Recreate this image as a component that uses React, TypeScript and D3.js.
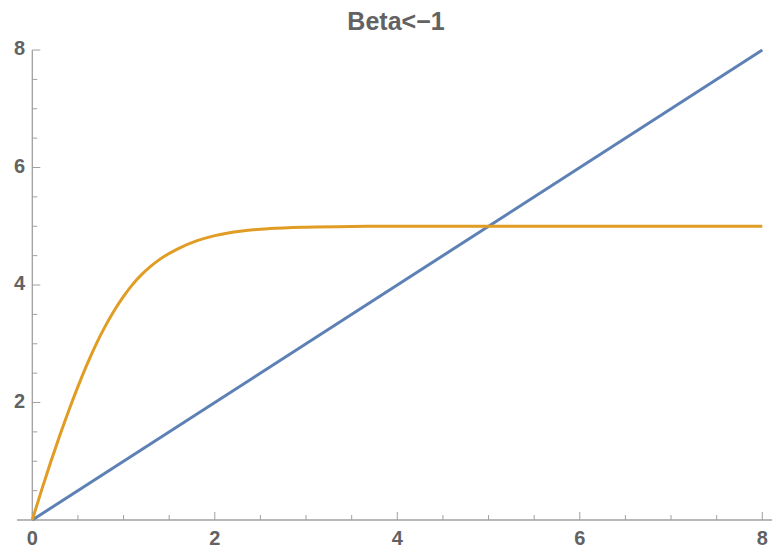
import React, { useRef, useEffect } from 'react';
import * as d3 from 'd3';

// series
const orangeX = [0, 0.1, 0.2, 0.3, 0.4, 0.5, 0.6, 0.7, 0.8, 0.9, 1.0, 1.1, 1.2, 1.3, 1.4, 1.6, 1.8, 2.0, 2.3, 2.6, 3.0, 3.5, 4, 5, 6, 7, 8];
const orangeY = [0, 0.5, 0.98, 1.435, 1.865, 2.27, 2.65, 2.995, 3.3, 3.57, 3.805, 4.01, 4.18, 4.32, 4.44, 4.62, 4.75, 4.84, 4.92, 4.96, 4.985, 4.997, 5.0, 5.0, 5.0, 5.0, 5.0];
const blueX = [0, 8];
const blueY = [0, 8];
const majorTicks = [0, 2, 4, 6, 8];
const minorTicks = [0.5, 1, 1.5, 2.5, 3, 3.5, 4.5, 5, 5.5, 6.5, 7, 7.5];
const title = 'Beta<\u22121';

const width = 772;
const height = 552;

export default function App() {
  const svgRef = useRef<SVGSVGElement>(null);

  useEffect(() => {
    if (!svgRef.current) return;
    const svg = d3.select(svgRef.current);
    svg.selectAll('*').remove();

    const xScale = d3.scaleLinear().domain([0, 8]).range([32.3, 762.3]);
    const yScale = d3.scaleLinear().domain([0, 8]).range([520, 50]);

    const axisColor = '#a0a0a0';
    const labelColor = '#626262';
    const font = '"Liberation Sans", Arial, sans-serif';

    // axes lines
    svg.append('line')
      .attr('x1', 17).attr('x2', 772)
      .attr('y1', yScale(0)).attr('y2', yScale(0))
      .attr('stroke', axisColor).attr('stroke-width', 1.3);
    svg.append('line')
      .attr('x1', xScale(0)).attr('x2', xScale(0))
      .attr('y1', yScale(8)).attr('y2', yScale(0))
      .attr('stroke', axisColor).attr('stroke-width', 1.3);

    // x ticks (pointing up)
    svg.selectAll('.xmaj').data(majorTicks).enter().append('line')
      .attr('x1', d => xScale(d)).attr('x2', d => xScale(d))
      .attr('y1', yScale(0)).attr('y2', yScale(0) - 8)
      .attr('stroke', axisColor).attr('stroke-width', 1);
    svg.selectAll('.xmin').data(minorTicks).enter().append('line')
      .attr('x1', d => xScale(d)).attr('x2', d => xScale(d))
      .attr('y1', yScale(0)).attr('y2', yScale(0) - 5)
      .attr('stroke', axisColor).attr('stroke-width', 1);

    // y ticks (pointing right)
    svg.selectAll('.ymaj').data(majorTicks.filter(d => d > 0)).enter().append('line')
      .attr('x1', xScale(0)).attr('x2', xScale(0) + 8)
      .attr('y1', d => yScale(d)).attr('y2', d => yScale(d))
      .attr('stroke', axisColor).attr('stroke-width', 1);
    svg.selectAll('.ymin').data(minorTicks).enter().append('line')
      .attr('x1', xScale(0)).attr('x2', xScale(0) + 5)
      .attr('y1', d => yScale(d)).attr('y2', d => yScale(d))
      .attr('stroke', axisColor).attr('stroke-width', 1);

    // tick labels
    svg.selectAll('.xlab').data(majorTicks).enter().append('text')
      .attr('x', d => xScale(d)).attr('y', 545)
      .attr('text-anchor', 'middle')
      .attr('font-family', font).attr('font-weight', 'bold').attr('font-size', 20)
      .attr('fill', labelColor)
      .text(d => d);
    svg.selectAll('.ylab').data(majorTicks.filter(d => d > 0)).enter().append('text')
      .attr('x', 25).attr('y', d => yScale(d) + 5)
      .attr('text-anchor', 'end')
      .attr('font-family', font).attr('font-weight', 'bold').attr('font-size', 20)
      .attr('fill', labelColor)
      .text(d => d);

    // title
    svg.append('text')
      .attr('x', 396).attr('y', 30)
      .attr('text-anchor', 'middle')
      .attr('font-family', font).attr('font-weight', 'bold').attr('font-size', 25)
      .attr('fill', labelColor)
      .text(title);

    const line = d3.line<[number, number]>()
      .x(d => xScale(d[0]))
      .y(d => yScale(d[1]))
      .curve(d3.curveMonotoneX);

    const blue = blueX.map((x, i) => [x, blueY[i]] as [number, number]);
    const orange = orangeX.map((x, i) => [x, orangeY[i]] as [number, number]);

    svg.append('path')
      .datum(blue)
      .attr('fill', 'none')
      .attr('stroke', '#5e81b5')
      .attr('stroke-width', 3)
      .attr('d', line);

    svg.append('path')
      .datum(orange)
      .attr('fill', 'none')
      .attr('stroke', '#e19c24')
      .attr('stroke-width', 3)
      .attr('d', line);
  }, []);

  return (
    <svg
      ref={svgRef}
      width={width}
      height={height}
      style={{ position: 'absolute', left: 0, top: 0, background: 'white' }}
    />
  );
}
